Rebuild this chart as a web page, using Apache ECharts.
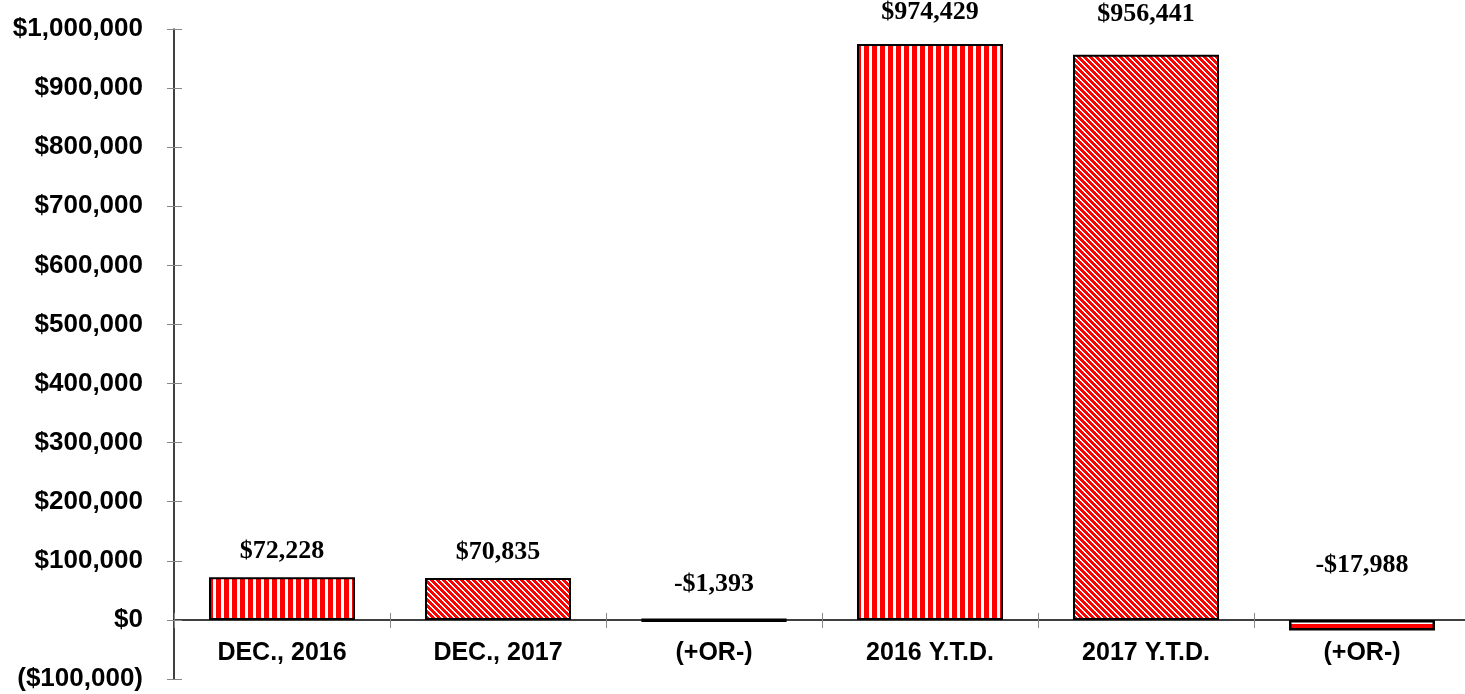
<!DOCTYPE html>
<html>
<head>
<meta charset="utf-8">
<script src="https://cdn.jsdelivr.net/npm/echarts@6/dist/echarts.min.js"></script>
<style>html,body{margin:0;padding:0;background:#fff;}#c{width:1465px;height:694px;}</style>
</head>
<body>
<div id="c"></div>
<script>
var categories = ['DEC., 2016', 'DEC., 2017', '(+OR-)', '2016 Y.T.D.', '2017 Y.T.D.', '(+OR-)'];
var values = [72228, 70835, -1393, 974429, 956441, -17988];
var labelTexts = ['$72,228', '$70,835', '-$1,393', '$974,429', '$956,441', '-$17,988'];
var yMin = -100000, yMax = 1000000, yStep = 100000;

function makeVertical() {
  var c = document.createElement('canvas'); c.width = 8; c.height = 8;
  var g = c.getContext('2d');
  g.fillStyle = '#fff'; g.fillRect(0, 0, 8, 8);
  g.fillStyle = '#ff0000'; g.fillRect(0, 0, 5, 8);
  return c;
}
function makeDiagonal() {
  var n = 6;
  var c = document.createElement('canvas'); c.width = n; c.height = n;
  var g = c.getContext('2d');
  var img = g.createImageData(n, n);
  for (var y = 0; y < n; y++) for (var x = 0; x < n; x++) {
    var k = ((x - y) % n + n) % n;
    var i = (y * n + x) * 4;
    var red = k < 3.5;
    img.data[i] = 255; img.data[i+1] = red ? 0 : 255; img.data[i+2] = red ? 0 : 255; img.data[i+3] = 255;
  }
  g.putImageData(img, 0, 0);
  return c;
}
var vert = {image: makeVertical(), repeat: 'repeat'};
var diag = {image: makeDiagonal(), repeat: 'repeat'};
var lastFill = {type: 'linear', x: 0, y: 0, x2: 0, y2: 1, colorStops: [
  {offset: 0, color: '#fff'}, {offset: 0.38, color: '#fff'},
  {offset: 0.38, color: '#ff0000'}, {offset: 1, color: '#ff0000'}]};
var fills = [vert, diag, '#000', vert, diag, lastFill];
var borders = [2, 2, 3.5, 2, 2, 2.5];
var labelDist = [13, 13, 21, 19, 27, 42];

function fmt(v) {
  var s = Math.abs(v).toString().replace(/\B(?=(\d{3})+(?!\d))/g, ',');
  return v < 0 ? '($' + s + ')' : '$' + s;
}

var gridTop = 29, gridBottom = 15, H = 694;
var gridH = H - gridTop - gridBottom;
var zeroOffset = -gridH * (0 - yMin) / (yMax - yMin);

var chart = echarts.init(document.getElementById('c'));
var data = values.map(function (v, i) {
  return {
    value: v,
    itemStyle: {color: fills[i], borderWidth: borders[i]},
    label: {formatter: labelTexts[i], distance: labelDist[i]}
  };
});
chart.setOption({
  animation: false,
  grid: {left: 174, right: -5, top: gridTop, bottom: gridBottom, containLabel: false, outerBoundsMode: 'none'},
  xAxis: [{
    type: 'category', data: categories, position: 'bottom', offset: zeroOffset,
    axisLine: {onZero: false, lineStyle: {color: '#000', width: 1.5}},
    axisTick: {show: true, length: 8, lineStyle: {color: '#888', width: 1}},
    axisLabel: {margin: 21, color: '#000', fontFamily: 'Liberation Sans, Arial', fontWeight: 'bold', fontSize: 25, interval: 0},
    splitLine: {show: false}
  }, {
    type: 'category', data: categories, position: 'bottom', offset: zeroOffset,
    axisLine: {show: false, onZero: false},
    axisTick: {show: true, inside: true, length: 7, lineStyle: {color: '#888', width: 1}},
    axisLabel: {show: false}, splitLine: {show: false}
  }],
  yAxis: [{
    type: 'value', min: yMin, max: yMax, interval: yStep,
    axisLine: {show: true, lineStyle: {color: '#000', width: 1.5}},
    axisTick: {show: true, length: 7, lineStyle: {color: '#888', width: 1}},
    axisLabel: {margin: 31, color: '#000', fontFamily: 'Liberation Sans, Arial', fontWeight: 'bold', fontSize: 26, formatter: fmt},
    splitLine: {show: false}
  }, {
    type: 'value', min: yMin, max: yMax, interval: yStep, position: 'left',
    axisLine: {show: false},
    axisTick: {show: true, inside: true, length: 8, lineStyle: {color: '#888', width: 1}},
    axisLabel: {show: false}, splitLine: {show: false}
  }],
  series: [{
    type: 'bar', data: data, barWidth: '67.6%',
    xAxisIndex: 0, yAxisIndex: 0,
    itemStyle: {borderColor: '#000', borderWidth: 2},
    label: {show: true, position: 'top', color: '#000', fontFamily: 'Liberation Serif, Times New Roman', fontWeight: 'bold', fontSize: 26}
  }]
});
</script>
</body>
</html>
